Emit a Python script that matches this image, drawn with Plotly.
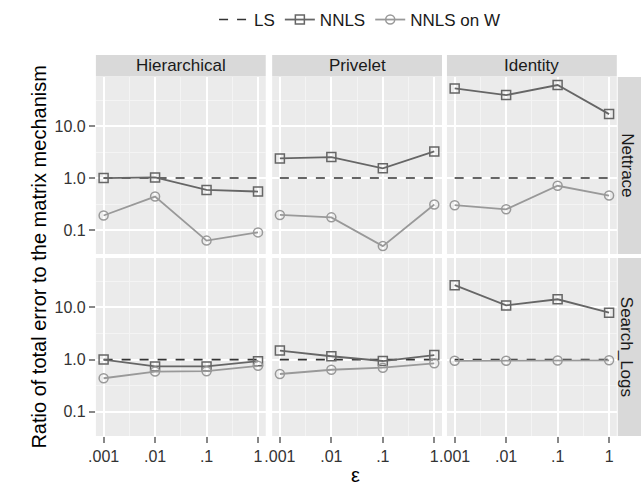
import plotly.graph_objects as go
from plotly.subplots import make_subplots

# ---------------- data ----------------
eps = [0.001, 0.01, 0.1, 1]
eps_labels = [".001", ".01", ".1", "1"]
methods = ["Hierarchical", "Privelet", "Identity"]
datasets = ["Nettrace", "Search_Logs"]
y_tickvals = [0.1, 1.0, 10.0]
y_ticklabels = ["0.1", "1.0", "10.0"]

ls_values = [1.0, 1.0, 1.0, 1.0]

nnls_nettrace_hier = [1.0, 1.03, 0.59, 0.55]
nnls_nettrace_priv = [2.39, 2.53, 1.54, 3.26]
nnls_nettrace_iden = [53.0, 39.5, 61.6, 17.0]
nnls_search_hier = [1.0, 0.74, 0.74, 0.93]
nnls_search_priv = [1.49, 1.16, 0.94, 1.22]
nnls_search_iden = [26.6, 10.9, 14.3, 7.9]

nnlsw_nettrace_hier = [0.19, 0.44, 0.0625, 0.09]
nnlsw_nettrace_priv = [0.195, 0.175, 0.049, 0.31]
nnlsw_nettrace_iden = [0.30, 0.25, 0.71, 0.46]
nnlsw_search_hier = [0.44, 0.59, 0.60, 0.76]
nnlsw_search_priv = [0.53, 0.64, 0.70, 0.85]
nnlsw_search_iden = [0.95, 0.95, 0.96, 0.97]

nnls = [[nnls_nettrace_hier, nnls_nettrace_priv, nnls_nettrace_iden],
        [nnls_search_hier, nnls_search_priv, nnls_search_iden]]
nnlsw = [[nnlsw_nettrace_hier, nnlsw_nettrace_priv, nnlsw_nettrace_iden],
         [nnlsw_search_hier, nnlsw_search_priv, nnlsw_search_iden]]

# ---------------- layout geometry ----------------
W, H = 641, 486
FONT = "Liberation Sans"
def fx(p):
    return p / W
def fy(p):
    return 1 - p / H

col_px = [(89, 261), (267.5, 439.5), (444.5, 616.5)]
row_px = [(77, 254), (258, 436)]
xr = [-3.15, 0.15]
yr = [-1.462, 1.945]

fig = make_subplots(rows=2, cols=3)

c_nnls = "#666666"
c_nnlsw = "#999999"
c_ls = "#333333"

for r in range(2):
    for c in range(3):
        first = (r == 0 and c == 0)
        fig.add_trace(go.Scatter(x=eps, y=ls_values, mode="lines", name="LS",
                                 line=dict(color=c_ls, width=1.6, dash="dash"),
                                 legendgroup="LS", showlegend=first), row=r + 1, col=c + 1)
        fig.add_trace(go.Scatter(x=eps, y=nnls[r][c], mode="lines+markers", name="NNLS",
                                 line=dict(color=c_nnls, width=1.8),
                                 marker=dict(symbol="square-open", size=9, color=c_nnls,
                                             line=dict(width=1.5, color=c_nnls)),
                                 legendgroup="NNLS", showlegend=first), row=r + 1, col=c + 1)
        fig.add_trace(go.Scatter(x=eps, y=nnlsw[r][c], mode="lines+markers", name="NNLS on W",
                                 line=dict(color=c_nnlsw, width=1.8),
                                 marker=dict(symbol="circle-open", size=9, color=c_nnlsw,
                                             line=dict(width=1.5, color=c_nnlsw)),
                                 legendgroup="NNLSW", showlegend=first), row=r + 1, col=c + 1)

x_minor = [10 ** (xr[0] + 0.012), 10 ** -2.5, 10 ** -1.5, 10 ** -0.5, 10 ** (xr[1] - 0.012)]
y_minor = [10 ** (yr[0] + 0.012), 10 ** -0.5, 10 ** 0.5, 10 ** 1.5, 10 ** (yr[1] - 0.012)]

layout_axes = {}
for r in range(2):
    for c in range(3):
        i = r * 3 + c + 1
        sfx = "" if i == 1 else str(i)
        layout_axes["xaxis" + sfx] = dict(
            type="log", range=xr, domain=[fx(col_px[c][0]), fx(col_px[c][1])],
            tickmode="array", tickvals=eps, ticktext=eps_labels,
            showticklabels=(r == 1), ticks="outside" if r == 1 else "",
            ticklen=6, tickwidth=1.5, tickcolor="#888888",
            tickfont=dict(family=FONT, size=16, color="#333333"),
            showgrid=True, gridcolor="white", gridwidth=2, zeroline=False, showline=False,
            minor=dict(tickmode="array", tickvals=x_minor, showgrid=True,
                       gridcolor="#F4F4F4", gridwidth=1, ticks=""),
        )
        layout_axes["yaxis" + sfx] = dict(
            type="log", range=yr, domain=[fy(row_px[r][1]), fy(row_px[r][0])],
            tickmode="array", tickvals=y_tickvals, ticktext=y_ticklabels,
            showticklabels=(c == 0), ticks="outside" if c == 0 else "",
            ticklen=6, tickwidth=1.5, tickcolor="#888888",
            tickfont=dict(family=FONT, size=16, color="#333333"),
            showgrid=True, gridcolor="white", gridwidth=2, zeroline=False, showline=False,
            minor=dict(tickmode="array", tickvals=y_minor, showgrid=True,
                       gridcolor="#F4F4F4", gridwidth=1, ticks=""),
        )

shapes = []
annotations = []
strip_fill = "#D9D9D9"
for c, m in enumerate(methods):
    shapes.append(dict(type="rect", xref="paper", yref="paper",
                       x0=fx(col_px[c][0]), x1=fx(col_px[c][1]), y0=fy(76.5), y1=fy(55),
                       fillcolor=strip_fill, line=dict(width=0), layer="below"))
    annotations.append(dict(text=m, xref="paper", yref="paper",
                            x=fx((col_px[c][0] + col_px[c][1]) / 2), y=fy(66),
                            showarrow=False, xanchor="center", yanchor="middle",
                            font=dict(family=FONT, size=17, color="#1a1a1a")))
for r, d in enumerate(datasets):
    shapes.append(dict(type="rect", xref="paper", yref="paper",
                       x0=fx(617.5), x1=fx(641), y0=fy(row_px[r][1]), y1=fy(row_px[r][0]),
                       fillcolor=strip_fill, line=dict(width=0), layer="below"))
    annotations.append(dict(text=d, xref="paper", yref="paper",
                            x=fx(627), y=fy((row_px[r][0] + row_px[r][1]) / 2),
                            showarrow=False, xanchor="center", yanchor="middle", textangle=90,
                            font=dict(family=FONT, size=17, color="#1a1a1a")))

annotations.append(dict(text="Ratio of total error to the matrix mechanism",
                        xref="paper", yref="paper", x=fx(31), y=fy(257),
                        showarrow=False, textangle=-90, xanchor="center", yanchor="middle",
                        font=dict(family=FONT, size=20, color="black")))
annotations.append(dict(text="ε", xref="paper", yref="paper", x=fx(352), y=fy(475),
                        showarrow=False, xanchor="center", yanchor="middle",
                        font=dict(family=FONT, size=20, color="black")))

fig.update_layout(
    width=W, height=H, margin=dict(l=0, r=0, t=0, b=0),
    paper_bgcolor="white", plot_bgcolor="#EBEBEB",
    font=dict(family=FONT, size=16, color="#1a1a1a"),
    showlegend=True,
    legend=dict(orientation="h", x=fx(356), xanchor="center", y=fy(20), yanchor="middle",
                font=dict(family=FONT, size=17, color="#1a1a1a"), itemwidth=30,
                bgcolor="rgba(0,0,0,0)", traceorder="normal"),
    shapes=shapes, annotations=annotations,
    **layout_axes,
)

fig.write_html("out.html")
